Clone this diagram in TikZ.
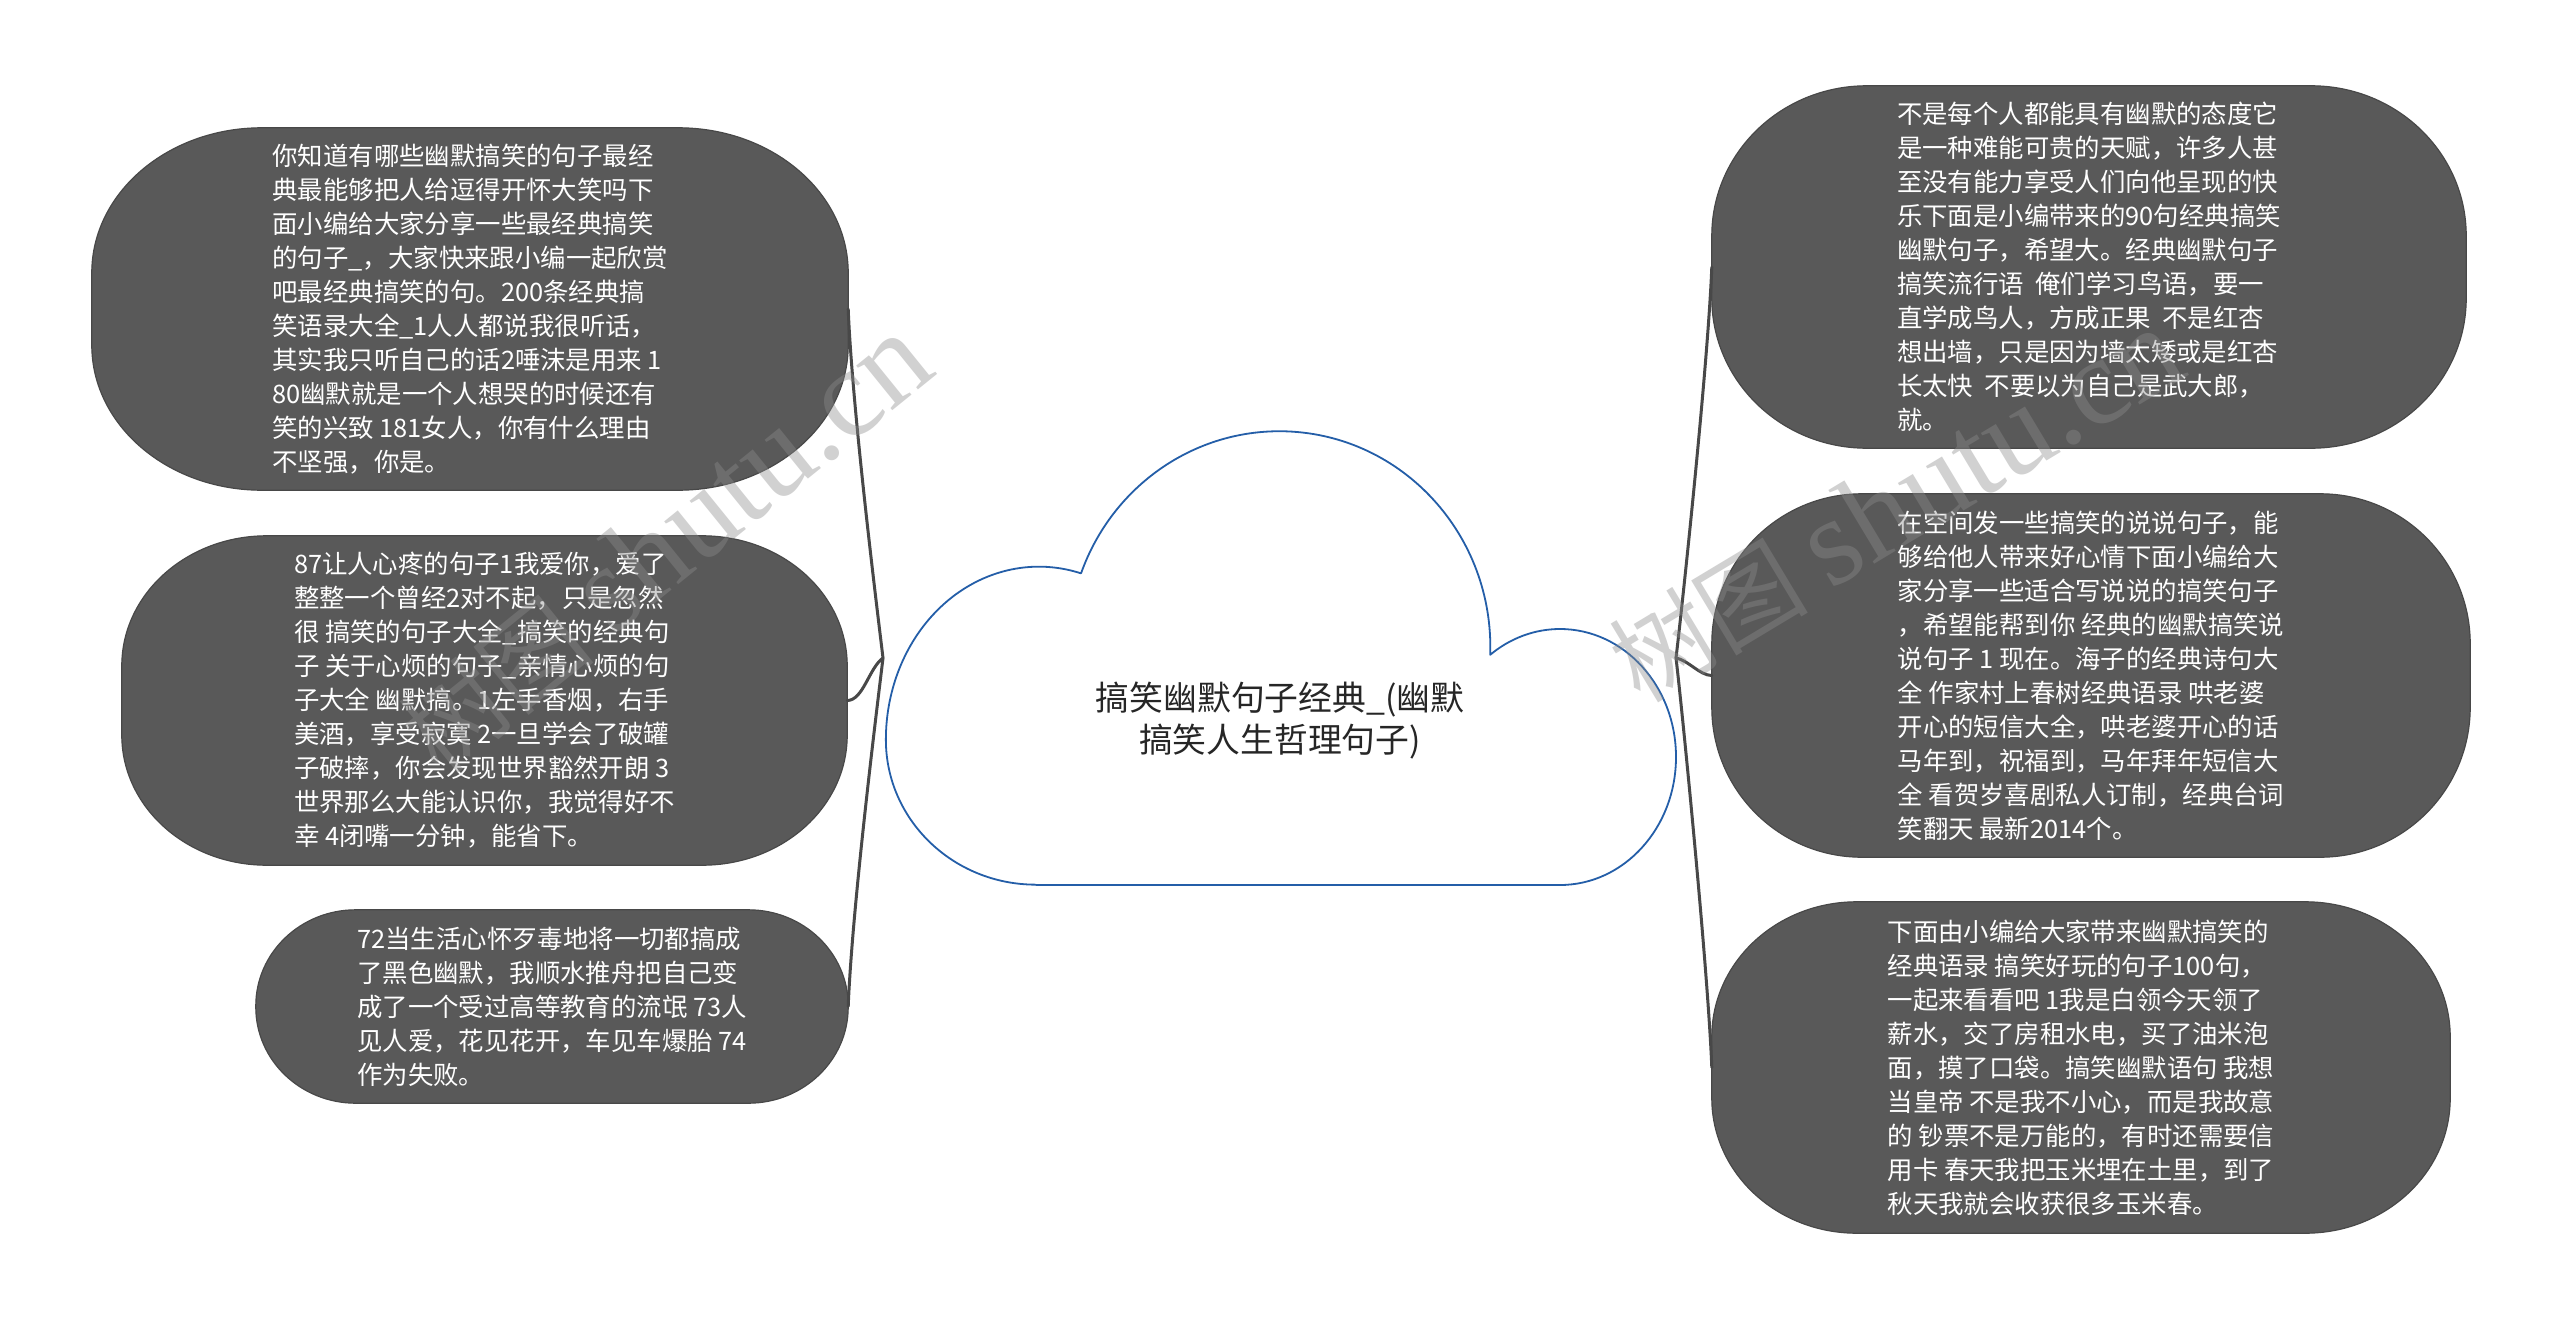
\documentclass[tikz,border=0pt]{standalone}
\usepackage{fontspec}
\setmainfont{Noto Sans CJK SC}
\newfontfamily\wmserif{Liberation Serif}
\usetikzlibrary{calc,backgrounds}
\definecolor{blobgray}{RGB}{89,89,89}
\definecolor{blobedge}{RGB}{72,72,72}
\definecolor{linkgray}{RGB}{72,72,72}
\definecolor{cloudblue}{RGB}{36,94,168}
\definecolor{titleink}{RGB}{38,38,38}
\definecolor{wmgray}{RGB}{140,140,140}
\tikzset{
  blob/.style={rectangle, inner sep=0pt, text=white, align=left,
    font={\fontsize{25.4}{34}\selectfont}},
  blobfill/.style={fill=blobgray, draw=blobedge, line width=1.2},
  link/.style={draw=linkgray, line width=3, line cap=round},
  cloudline/.style={draw=cloudblue, line width=1.8, fill=white, line join=round},
  titletext/.style={text=titleink, align=center, font={\fontsize{33.8}{42}\selectfont}},
  wm/.style={text=wmgray, text opacity=0.4, inner sep=0pt, font={\fontsize{100}{100}\selectfont}}
}
\newcommand\blobshape[3]{%
  \path[blobfill] let \p1=(#1.south west), \p2=(#1.north east) in
    (\x1+#2pt,\y1) -- (\x2-#2pt,\y1)
    arc[start angle=270,end angle=360,x radius=#2pt,y radius=#3pt]
    -- (\x2,\y2-#3pt)
    arc[start angle=0,end angle=90,x radius=#2pt,y radius=#3pt]
    -- (\x1+#2pt,\y2)
    arc[start angle=90,end angle=180,x radius=#2pt,y radius=#3pt]
    -- (\x1,\y1+#3pt)
    arc[start angle=180,end angle=270,x radius=#2pt,y radius=#3pt]
    -- cycle;}
\newcommand\wmtext{树图 {\wmserif\fontsize{125}{125}\selectfont shutu.cn}}
\begin{document}
\begin{tikzpicture}[x=1pt,y=1pt]
\useasboundingbox (0,0) rectangle (2560,-1317);

% central cloud
\path[cloudline] (1036,-885) -- (1560,-885)
  arc[start angle=270,end angle=360,x radius=116,y radius=128]
  arc[start angle=0,end angle=127,x radius=116,y radius=128]
  arc[start angle=-2,end angle=160,x radius=211,y radius=216]
  arc[start angle=74,end angle=180,x radius=153,y radius=173]
  arc[start angle=180,end angle=270,x radius=150,y radius=145]
  -- cycle;
\node[titletext] (root) at (1280,-721) {搞笑幽默句子经典\_(幽默\\搞笑人生哲理句子)};

% topic nodes
\node[blob, minimum width=756, minimum height=362] (l1) at (470,-309) {你知道有哪些幽默搞笑的句子最经\\典最能够把人给逗得开怀大笑吗下\\面小编给大家分享一些最经典搞笑\\的句子\_，大家快来跟小编一起欣赏\\吧最经典搞笑的句。200条经典搞\\笑语录大全\_1人人都说我很听话，\\其实我只听自己的话2唾沫是用来 1\\80幽默就是一个人想哭的时候还有\\笑的兴致 181女人，你有什么理由\\不坚强，你是。};
\node[blob, minimum width=725, minimum height=329] (l2) at (484.5,-700.5) {87让人心疼的句子1我爱你，爱了\\整整一个曾经2对不起，只是忽然\\很 搞笑的句子大全\_搞笑的经典句\\子 关于心烦的句子\_亲情心烦的句\\子大全 幽默搞。1左手香烟，右手\\美酒，享受寂寞 2一旦学会了破罐\\子破摔，你会发现世界豁然开朗 3\\世界那么大能认识你，我觉得好不\\幸 4闭嘴一分钟，能省下。};
\node[blob, minimum width=592, minimum height=193] (l3) at (552,-1006.5) {72当生活心怀歹毒地将一切都搞成\\了黑色幽默，我顺水推舟把自己变\\成了一个受过高等教育的流氓 73人\\见人爱，花见花开，车见车爆胎 74\\作为失败。};
\node[blob, minimum width=754, minimum height=362] (r1) at (2089,-267) {不是每个人都能具有幽默的态度它\\是一种难能可贵的天赋，许多人甚\\至没有能力享受人们向他呈现的快\\乐下面是小编带来的90句经典搞笑\\幽默句子，希望大。经典幽默句子\\搞笑流行语~~俺们学习鸟语，要一\\直学成鸟人，方成正果~~不是红杏\\想出墙，只是因为墙太矮或是红杏\\长太快~~不要以为自己是武大郎，\\就。};
\node[blob, minimum width=758, minimum height=363] (r2) at (2091,-675.5) {在空间发一些搞笑的说说句子，能\\够给他人带来好心情下面小编给大\\家分享一些适合写说说的搞笑句子\\，希望能帮到你 经典的幽默搞笑说\\说句子 1 现在。海子的经典诗句大\\全 作家村上春树经典语录 哄老婆\\开心的短信大全，哄老婆开心的话\\马年到，祝福到，马年拜年短信大\\全 看贺岁喜剧私人订制，经典台词\\笑翻天 最新2014个。};
\node[blob, minimum width=738, minimum height=331] (r3) at (2081,-1067.5) {下面由小编给大家带来幽默搞笑的\\经典语录 搞笑好玩的句子100句，\\一起来看看吧 1我是白领今天领了\\薪水，交了房租水电，买了油米泡\\面，摸了口袋。搞笑幽默语句 我想\\当皇帝 不是我不小心，而是我故意\\的 钞票不是万能的，有时还需要信\\用卡 春天我把玉米埋在土里，到了\\秋天我就会收获很多玉米春。};

\begin{pgfonlayer}{background}
  \fill[white] (0,0) rectangle (2560,-1317);
  \blobshape{l1}{170}{145}
  \blobshape{l2}{145}{130}
  \blobshape{l3}{100}{96}
  \blobshape{r1}{155}{150}
  \blobshape{r2}{150}{150}
  \blobshape{r3}{145}{135}
\end{pgfonlayer}

% connectors
\coordinate (jl) at (883,-658);
\coordinate (jr) at (1676,-658);
\draw[link] (jl) .. controls +(-6,50) and +(4,-100) .. (l1.east);
\draw[link] (jl) .. controls +(-14,-10) and +(16,0) .. (l2.east);
\draw[link] (jl) .. controls +(-6,-50) and +(4,100) .. (l3.east);
\draw[link] (jr) .. controls +(6,50) and +(-4,-100) .. (r1.west);
\draw[link] (jr) .. controls +(12,-2) and +(-12,0) .. (r2.west);
\draw[link] (jr) .. controls +(6,-50) and +(-4,100) .. (r3.west);

% watermarks
\node[wm, rotate=39, anchor=base west] (wmleft) at (440,-778) {\wmtext};
\node[wm, rotate=31, anchor=base west] (wmright) at (1640,-705) {\wmtext};
\end{tikzpicture}
\end{document}
